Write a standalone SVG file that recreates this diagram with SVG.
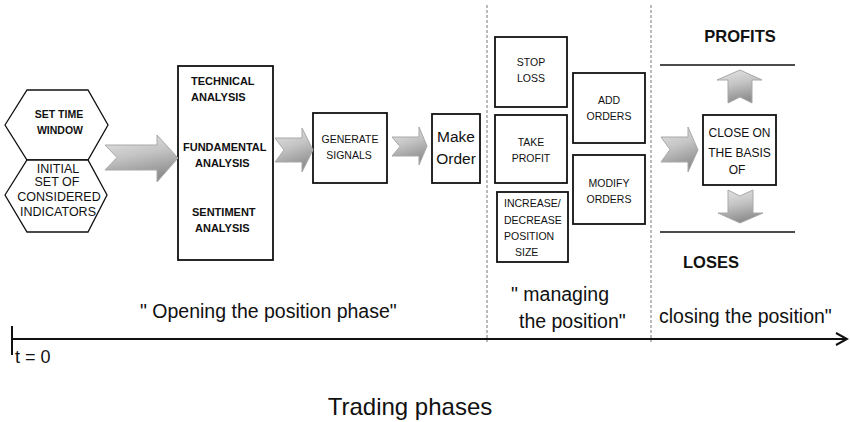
<svg xmlns="http://www.w3.org/2000/svg" width="850" height="422" viewBox="0 0 850 422">
<style>
  .box { fill: #ffffff; stroke: #111111; stroke-width: 1.8; }
  .hex { fill: #ffffff; stroke: #111111; stroke-width: 1.3; }
  .garrow { fill: url(#gray); stroke: #a8a8a8; stroke-width: 1; }
  .dash { stroke: #777777; stroke-width: 1; stroke-dasharray: 3 2; fill: none; }
  .rule { stroke: #111111; stroke-width: 1.6; }
  .t { font-family: "Liberation Sans", Arial, sans-serif; fill: #111111; }
  .b { font-weight: bold; }
  .s10 { font-size: 10.5px; }
  .s11 { font-size: 11px; }
  .c { text-anchor: middle; }
  .phase { font-family: "Liberation Sans", Arial, sans-serif; font-size: 19.5px; fill: #111111; }
</style>
<defs>
  <linearGradient id="gray" x1="0" y1="0" x2="0.3" y2="1">
    <stop offset="0" stop-color="#e6e6e6"/>
    <stop offset="0.5" stop-color="#c4c4c4"/>
    <stop offset="1" stop-color="#8f8f8f"/>
  </linearGradient>
  <marker id="tip" markerWidth="14" markerHeight="14" refX="12" refY="7" orient="auto" markerUnits="userSpaceOnUse">
    <path d="M1,1 L12,7 L1,13" fill="none" stroke="#111111" stroke-width="2"/>
  </marker>
</defs>

<!-- phase separators -->
<g id="separators">
  <line class="dash" x1="487" y1="5" x2="487" y2="342"/>
  <line class="dash" x1="651" y1="5" x2="651" y2="342"/>
</g>

<g id="set-time-window">
  <polygon class="hex" points="5,125 27,90 88,90 108,125 88,160 27,160"/>
  <text class="t b c" x="59" y="118" font-size="10.5">SET TIME</text>
  <text class="t b c" x="60" y="134" font-size="10.5">WINDOW</text>
</g>

<g id="initial-indicators">
  <polygon class="hex" points="5,195 27,160 88,160 107,195 88,232 27,232"/>
  <text class="t c" x="58" y="173" font-size="12.5">INITIAL</text>
  <text class="t c" x="57" y="186" font-size="12.5">SET  OF</text>
  <text class="t c" x="59" y="201" font-size="12.5">CONSIDERED</text>
  <text class="t c" x="58" y="216" font-size="12.5">INDICATORS</text>
</g>

<g id="analysis">
  <rect class="box" x="178" y="66" width="95" height="194"/>
  <text class="t b s11" x="191" y="85">TECHNICAL</text>
  <text class="t b s11" x="191" y="101">ANALYSIS</text>
  <text class="t b s11" x="183" y="151">FUNDAMENTAL</text>
  <text class="t b s11" x="195" y="167">ANALYSIS</text>
  <text class="t b s11" x="192" y="216">SENTIMENT</text>
  <text class="t b s11" x="195" y="232">ANALYSIS</text>
</g>

<g id="generate-signals">
  <rect class="box" x="313" y="113" width="74" height="70"/>
  <text class="t s10 c" x="350" y="143">GENERATE</text>
  <text class="t s10 c" x="349" y="159">SIGNALS</text>
</g>

<g id="make-order">
  <rect class="box" x="432" y="114" width="48" height="69"/>
  <text class="t c" x="456" y="142" font-size="15.5">Make</text>
  <text class="t c" x="456" y="164" font-size="15.5">Order</text>
</g>

<g id="stop-loss">
  <rect class="box" x="495" y="37" width="72" height="70"/>
  <text class="t s10 c" x="531" y="66">STOP</text>
  <text class="t s10 c" x="531" y="82">LOSS</text>
</g>

<g id="take-profit">
  <rect class="box" x="495" y="115" width="72" height="68"/>
  <text class="t s10 c" x="531" y="146">TAKE</text>
  <text class="t s10 c" x="531" y="162">PROFIT</text>
</g>

<g id="increase-decrease">
  <rect class="box" x="497" y="192" width="71" height="70"/>
  <text class="t s10" x="504" y="207">INCREASE/</text>
  <text class="t s10" x="504" y="224">DECREASE</text>
  <text class="t s10" x="504" y="240">POSITION</text>
  <text class="t s10" x="515" y="256">SIZE</text>
</g>

<g id="add-orders">
  <rect class="box" x="573" y="73" width="72" height="70"/>
  <text class="t s10 c" x="609" y="104">ADD</text>
  <text class="t s10 c" x="609" y="120">ORDERS</text>
</g>

<g id="modify-orders">
  <rect class="box" x="573" y="155" width="72" height="69"/>
  <text class="t s10 c" x="609" y="187">MODIFY</text>
  <text class="t s10 c" x="609" y="203">ORDERS</text>
</g>

<g id="close-on-basis">
  <rect class="box" x="703" y="115" width="73" height="70"/>
  <text class="t c" x="739.5" y="137" font-size="12">CLOSE ON</text>
  <text class="t c" x="739.5" y="157" font-size="12">THE BASIS</text>
  <text class="t c" x="737" y="174" font-size="12">OF</text>
</g>

<g id="profits">
  <text class="t b c" x="740" y="42" font-size="16.5">PROFITS</text>
  <line class="rule" x1="660" y1="65" x2="795" y2="65"/>
</g>

<g id="loses">
  <line class="rule" x1="660" y1="232" x2="795" y2="232"/>
  <text class="t b" x="683" y="268" font-size="16.5">LOSES</text>
</g>

<g id="connectors">
  <path class="garrow" d="M105,145 L157,145 L157,135 L178,158 L157,182 L157,170 L105,170 L117,157.5 Z"/>
  <path class="garrow" d="M275,138 L302,138 L302,128 L313,150 L302,172 L302,162 L275,162 L284,150 Z"/>
  <path class="garrow" d="M392,137 L419,137 L419,127 L427,146 L419,165 L419,156 L392,156 L400,146.5 Z"/>
  <path class="garrow" d="M661,137 L688,137 L688,127 L698,150 L688,172 L688,162 L661,162 L670,149.5 Z"/>
  <path class="garrow" d="M728,103 L728,80 L717,80 L740,70 L762,80 L752,80 L752,103 L740,97 Z"/>
  <path class="garrow" d="M728,190 L740,196 L753,190 L753,213 L763,213 L740,223 L718,213 L728,213 Z"/>
</g>

<g id="timeline">
  <line x1="12" y1="326" x2="12" y2="355" stroke="#111111" stroke-width="2"/>
  <line x1="12" y1="339" x2="847" y2="339" stroke="#111111" stroke-width="2" marker-end="url(#tip)"/>
  <text class="t" x="15" y="363" font-size="18">t = 0</text>
</g>

<g id="phase-labels">
  <text class="phase" x="140" y="318">" Opening the position phase"</text>
  <text class="phase" x="511" y="301">" managing</text>
  <text class="phase" x="519" y="328">the position"</text>
  <text class="phase" x="659" y="323">closing the position"</text>
  <text class="t c" x="410" y="415" font-size="24">Trading phases</text>
</g>
</svg>
